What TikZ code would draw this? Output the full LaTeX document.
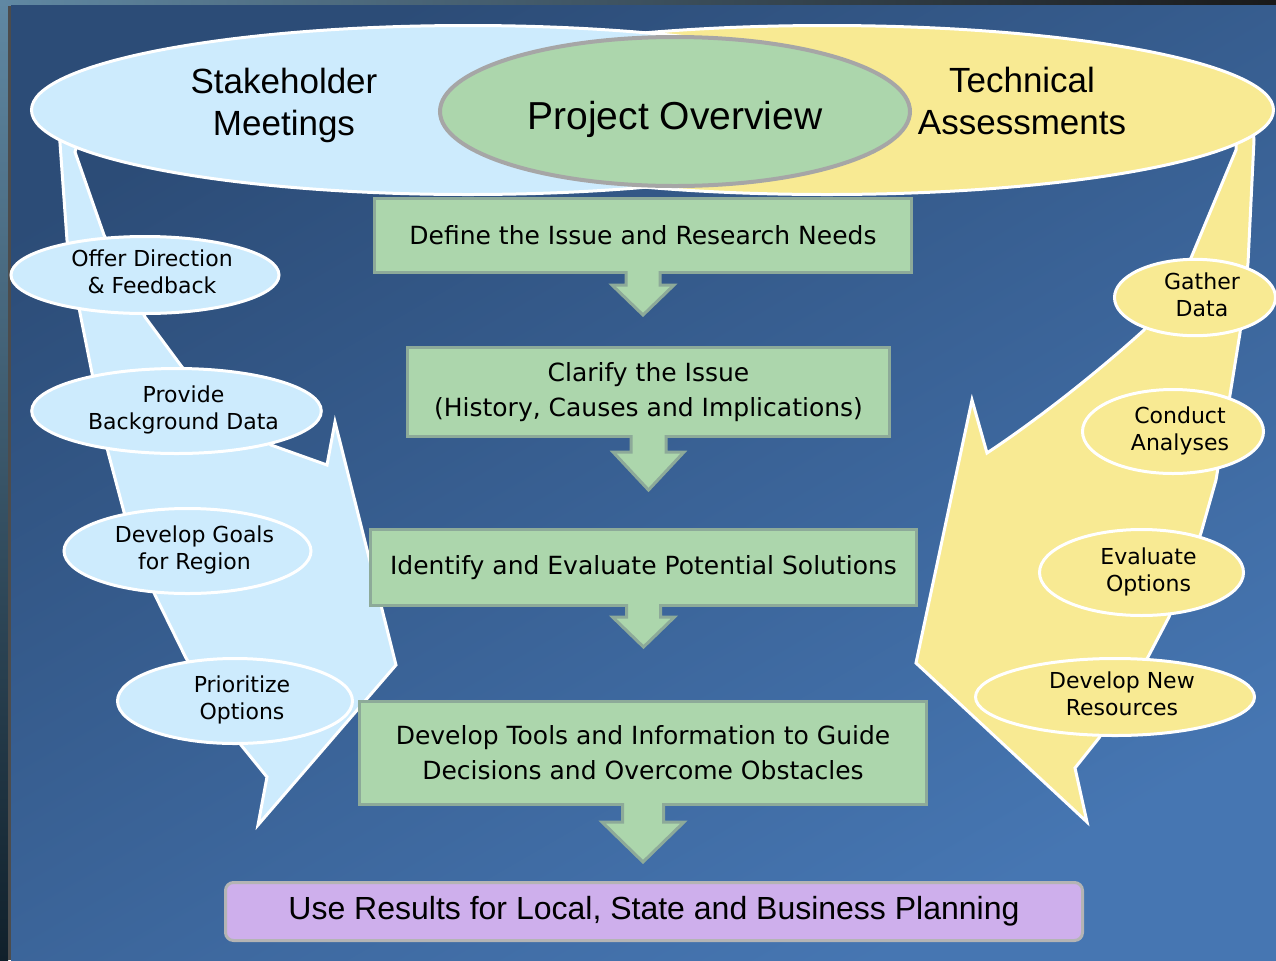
\documentclass[tikz,border=0pt]{standalone}
\usepackage{fontspec}
\usepackage{xcolor}
\usepackage{tikz}
\usetikzlibrary{shapes.geometric}
\setmainfont{DejaVu Sans}
\newfontfamily\headfont{Liberation Sans}
\definecolor{slideTop}{RGB}{44,76,119}
\definecolor{slideBot}{RGB}{70,118,178}
\definecolor{stripTop}{RGB}{96,136,163}
\definecolor{stripBot}{RGB}{16,32,43}
\definecolor{skyFill}{RGB}{205,235,253}
\definecolor{sunFill}{RGB}{248,234,147}
\definecolor{leafFill}{RGB}{172,214,172}
\definecolor{leafLine}{RGB}{141,170,153}
\definecolor{ovalLine}{RGB}{166,166,166}
\definecolor{lilacFill}{RGB}{206,175,236}
\definecolor{lilacLine}{RGB}{180,180,180}
% two-line bubble text, pushed a little to the right
\newcommand{\bub}[1]{\hspace*{7pt}\begin{tabular}{@{}c@{}}#1\end{tabular}}
% block arrow under a box: box, half shaft, half head, shaft length, head length
\newcommand{\stepdown}[5]{%
	\filldraw[downarrow] ([shift={(-#2,-3)}]#1.south) -- ++(0,#4+3) -- ++(#2-#3,0)
		-- ++(#3,#5) -- ++(#3,-#5) -- ++(#2-#3,0) -- ++(0,-#4-3);}

\begin{document}
\begin{tikzpicture}[x=0.5pt, y=-0.5pt,
		bigarrow/.style={draw=white, line width=1.5pt},
		bubble/.style={ellipse, draw=white, line width=1.5pt, inner sep=0pt,
			font=\fontsize{11pt}{13.5pt}\selectfont},
		stepbox/.style={rectangle, fill=leafFill, draw=leafLine, line width=1.5pt,
			align=center, font=\fontsize{12.5pt}{17.5pt}\selectfont},
		downarrow/.style={fill=leafFill, draw=leafLine, line width=1.5pt},
		headtext/.style={align=center, font=\headfont\fontsize{17.5pt}{21pt}\selectfont}]
			\useasboundingbox (0,0) rectangle (1276,960);
			\clip (0,0) rectangle (1276,960);
			%   %   %   %   %   %   %   %   %   %   %
			%   Background
				\shade[top color=stripTop, bottom color=stripBot] (0,0) rectangle (8,960);
				\fill[black!70] (8,0) rectangle (11,960);
				\shade[left color=stripTop, right color=black!90] (0,0) rectangle (1276,5);
				\shade[top color=slideTop, bottom color=slideBot, shading angle=30] (11,5) rectangle (1276,960);
			%   %   %   %   %   %   %   %   %   %   %
			%   Stakeholder arrow
				\filldraw[bigarrow, fill=skyFill] (58,100) -- (60,143) -- (67,240) -- (80,313)
					-- (92,373) -- (108,452) -- (124,512) -- (155,595) -- (186,658) -- (241,745)
					-- (267,777) -- (258,825) -- (396,665) -- (335,422) -- (327,465) -- (271,445)
					-- (182,367) -- (145,317) -- (104,235) -- (75,152) -- (90,100) -- cycle;
			%   %   %   %   %   %   %   %   %   %   %
			%   Technical arrow
				\filldraw[bigarrow, fill=sunFill] (1250,100) -- (1254,140) -- (1248,263) -- (1240,333)
					-- (1230,395) -- (1216,480) -- (1201,533) -- (1169,617) -- (1148,657) -- (1099,738)
					-- (1075,768) -- (1087,822) -- (916,663) -- (972,400) -- (987,453)
					.. controls (1040,418) and (1100,370) .. (1144,330) -- (1191,258) -- (1236,150)
					-- (1236,100) -- cycle;
			%   %   %   %   %   %   %   %   %   %   %
			%   Top ovals
				\node[ellipse, fill=sunFill, draw=white, line width=1.5pt,
					minimum width=446.5pt, minimum height=84.5pt] (tech) at (827,110) {};
				\node[ellipse, fill=skyFill, draw=white, line width=1.5pt,
					minimum width=436.5pt, minimum height=84.5pt] (stake) at (468,110) {};
				\node[ellipse, fill=leafFill, draw=ovalLine, line width=2pt,
					minimum width=235pt, minimum height=74.5pt] (overview) at (675,111.5) {};
				\node[headtext] (stakeTxt) at (284,105) {Stakeholder\\Meetings};
				\node[headtext] (techTxt) at (1022,101) {Technical\\Assessments};
				\node[font=\headfont\fontsize{19.5pt}{23pt}\selectfont] (overviewTxt) at (675,119)
				{Project Overview};
			%   %   %   %   %   %   %   %   %   %   %
			%   Stakeholder bubbles
				\node[bubble, fill=skyFill, minimum width=134pt, minimum height=38.5pt] (offer)
				at (145,275) {\bub{Offer Direction\\\& Feedback}};
				\node[bubble, fill=skyFill, minimum width=144.5pt, minimum height=42.5pt] (provide)
				at (176.5,411) {\bub{Provide\\Background Data}};
				\node[bubble, fill=skyFill, minimum width=123.5pt, minimum height=42.5pt] (goals)
				at (187.5,551) {\bub{Develop Goals\\for Region}};
				\node[bubble, fill=skyFill, minimum width=117.5pt, minimum height=42.5pt] (prioritize)
				at (235,701) {\bub{Prioritize\\Options}};
			%   %   %   %   %   %   %   %   %   %   %
			%   Technical bubbles
				\node[bubble, fill=sunFill, minimum width=80.5pt, minimum height=36pt] (gather)
				at (1195,297.5) {\bub{Gather\\Data}};
				\node[bubble, fill=sunFill, minimum width=90.5pt, minimum height=42pt] (conduct)
				at (1173,431.5) {\bub{Conduct\\Analyses}};
				\node[bubble, fill=sunFill, minimum width=102pt, minimum height=43pt] (evaluate)
				at (1141.5,572.5) {\bub{Evaluate\\Options}};
				\node[bubble, fill=sunFill, minimum width=139.5pt, minimum height=38.5pt] (resources)
				at (1115,697) {\bub{Develop New\\Resources}};
			%   %   %   %   %   %   %   %   %   %   %
			%   Steps
				\node[stepbox, minimum width=268.5pt, minimum height=37pt] (define)
				at (643,235.5) {Define the Issue and Research Needs};
				\stepdown{define}{17}{31}{11}{30}
				\node[stepbox, minimum width=241pt, minimum height=44.5pt] (clarify)
				at (648.5,392) {Clarify the Issue\\(History, Causes and Implications)};
				\stepdown{clarify}{17.5}{35.5}{14}{38}
				\node[stepbox, minimum width=273pt, minimum height=38pt] (identify)
				at (643.5,567.5) {Identify and Evaluate Potential Solutions};
				\stepdown{identify}{17}{31}{10}{30}
				\node[stepbox, minimum width=283.5pt, minimum height=51.5pt] (develop)
				at (643,753) {Develop Tools and Information to Guide\\Decisions and Overcome Obstacles};
				\stepdown{develop}{20.5}{41}{16}{40}
			%   %   %   %   %   %   %   %   %   %   %
			%   Results
				\node[rectangle, rounded corners=4pt, fill=lilacFill, draw=lilacLine, line width=1.5pt,
					minimum width=428.5pt, minimum height=29pt,
					font=\headfont\fontsize{16pt}{19pt}\selectfont] (results)
				at (654,911.5) {Use Results for Local, State and Business Planning};
		\end{tikzpicture}
\end{document}
